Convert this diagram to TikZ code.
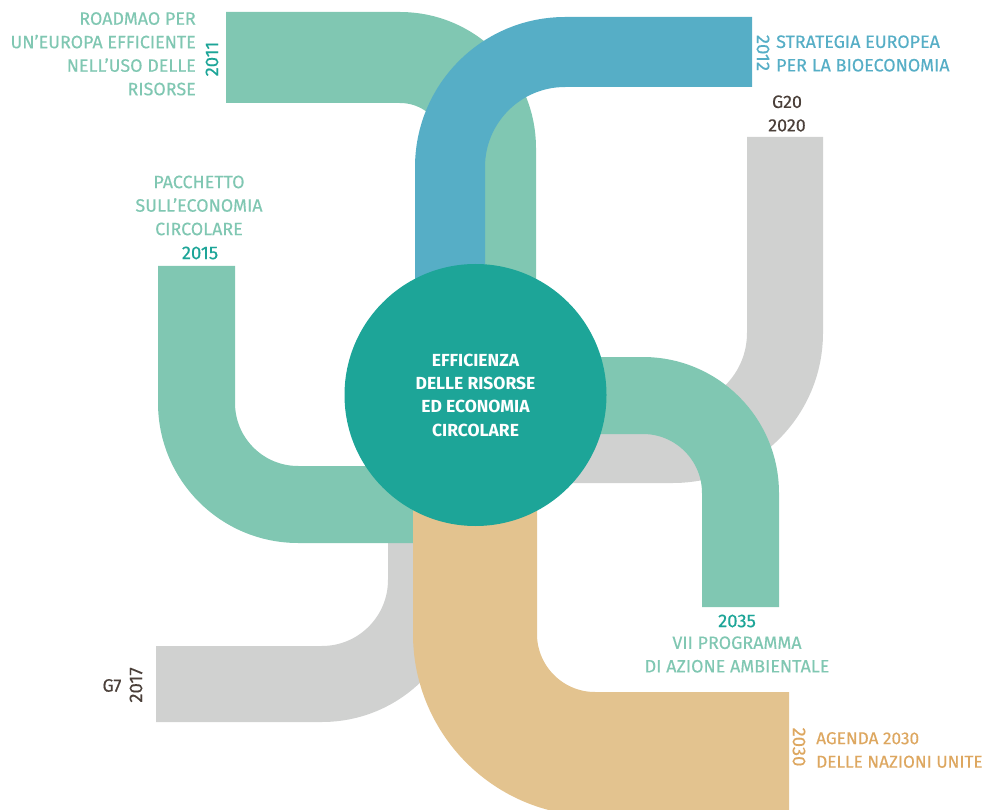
\documentclass[tikz,border=0pt]{standalone}
\usepackage{fontspec}
\setmainfont{Fira Sans}
\newfontfamily\lblfont{Fira Sans}[FakeBold=0.35]
\definecolor{bandgreen}{HTML}{80C7B2}
\definecolor{bandblue}{HTML}{56AEC6}
\definecolor{bandgray}{HTML}{D0D1D0}
\definecolor{bandorange}{HTML}{E3C38F}
\definecolor{hubteal}{HTML}{1DA598}
\definecolor{yearteal}{HTML}{1DA598}
\definecolor{txtorange}{HTML}{DDA760}
\definecolor{txtbrown}{HTML}{4B403A}
\tikzset{
  band/.style={line cap=butt, line join=round},
  lbl/.style={inner sep=0pt, font=\lblfont\fontsize{17.9}{23.5}\selectfont},
  lblsmall/.style={inner sep=0pt, font=\lblfont\fontsize{17.2}{23.5}\selectfont},
  yr/.style={inner sep=0pt, font=\lblfont\fontsize{18.5}{23.5}\selectfont},
  hubtext/.style={inner sep=0pt, font=\fontsize{17.5}{23.3}\selectfont\bfseries, text=white, align=center}
}
\begin{document}
\begin{tikzpicture}[x=1pt,y=-1pt]
\useasboundingbox (0,0) rectangle (988,810);
\clip (0,0) rectangle (988,810);

% gray band G20
\coordinate (g20a) at (785,137);
\coordinate (g20b) at (785,445);
\coordinate (g20c) at (560,445);
\draw[band, bandgray, line width=76pt, rounded corners=112pt] (g20a) -- (g20b) -- (g20c);

% gray band G7
\coordinate (g7a) at (156,684);
\coordinate (g7b) at (426,684);
\coordinate (g7c) at (426,500);
\draw[band, bandgray, line width=76pt, rounded corners=104pt] (g7a) -- (g7b) -- (g7c);

% green band 2011
\coordinate (r11a) at (226,57.5);
\coordinate (r11b) at (490.5,57.5);
\coordinate (r11c) at (490.5,320);
\draw[band, bandgreen, line width=91pt, rounded corners=90.5pt] (r11a) -- (r11b) -- (r11c);

% blue band 2012
\coordinate (b12a) at (752,52);
\coordinate (b12b) at (450,52);
\coordinate (b12c) at (450,320);
\draw[band, bandblue, line width=70pt, rounded corners=115pt] (b12a) -- (b12b) -- (b12c);

% green band 2035
\coordinate (v35a) at (580,395.5);
\coordinate (v35b) at (740.5,395.5);
\coordinate (v35c) at (740.5,607);
\draw[band, bandgreen, line width=77pt, rounded corners=97.5pt] (v35a) -- (v35b) -- (v35c);

% green band 2015
\coordinate (p15a) at (196.5,266);
\coordinate (p15b) at (196.5,504.5);
\coordinate (p15c) at (440,504.5);
\draw[band, bandgreen, line width=77pt, rounded corners=101.5pt] (p15a) -- (p15b) -- (p15c);

% orange band 2030
\coordinate (a30a) at (475,470);
\coordinate (a30b) at (475,754);
\coordinate (a30c) at (789,754);
\draw[band, bandorange, line width=124pt, rounded corners=120pt] (a30a) -- (a30b) -- (a30c);

% central hub
\node[circle, fill=hubteal, minimum size=262pt, inner sep=0pt] (hub) at (475.5,395) {};
\node[hubtext] (hubtxt) at (hub.center) {EFFICIENZA\\DELLE RISORSE\\ED ECONOMIA\\CIRCOLARE};

% labels
\node[lbl, text=bandgreen, align=right, anchor=north east] (t2011) at (196,12)
  {ROADMAO PER\\UN’EUROPA EFFICIENTE\\NELL’USO DELLE\\RISORSE};
\node[yr, text=yearteal, rotate=90] (y2011) at (212,59) {2011};

\node[yr, text=bandblue, rotate=-90] (y2012) at (763,53) {2012};
\node[lbl, text=bandblue, align=left, anchor=west] (t2012) at (776,53.5)
  {STRATEGIA EUROPEA\\PER LA BIOECONOMIA};

\node[lbl, text=txtbrown, align=center] (t2020) at (787,113.5) {G20\\2020};

\node[lbl, text=bandgreen, align=center] (t2015) at (199,205.5)
  {PACCHETTO\\SULL’ECONOMIA\\CIRCOLARE};
\node[yr, text=yearteal] (y2015) at (200,253) {2015};

\node[yr, text=yearteal] (y2035) at (737,621) {2035};
\node[lbl, text=bandgreen, align=center] (t2035) at (737,654.5)
  {VII PROGRAMMA\\DI AZIONE AMBIENTALE};

\node[lbl, text=txtbrown] (tg7) at (112,685.5) {G7};
\node[yr, text=txtbrown, rotate=90] (y2017) at (136,685) {2017};

\node[yr, text=txtorange, rotate=-90] (y2030) at (799,747) {2030};
\node[lblsmall, text=txtorange, align=left, anchor=west] (t2030) at (816,750)
  {AGENDA 2030\\DELLE NAZIONI UNITE};
\end{tikzpicture}
\end{document}
